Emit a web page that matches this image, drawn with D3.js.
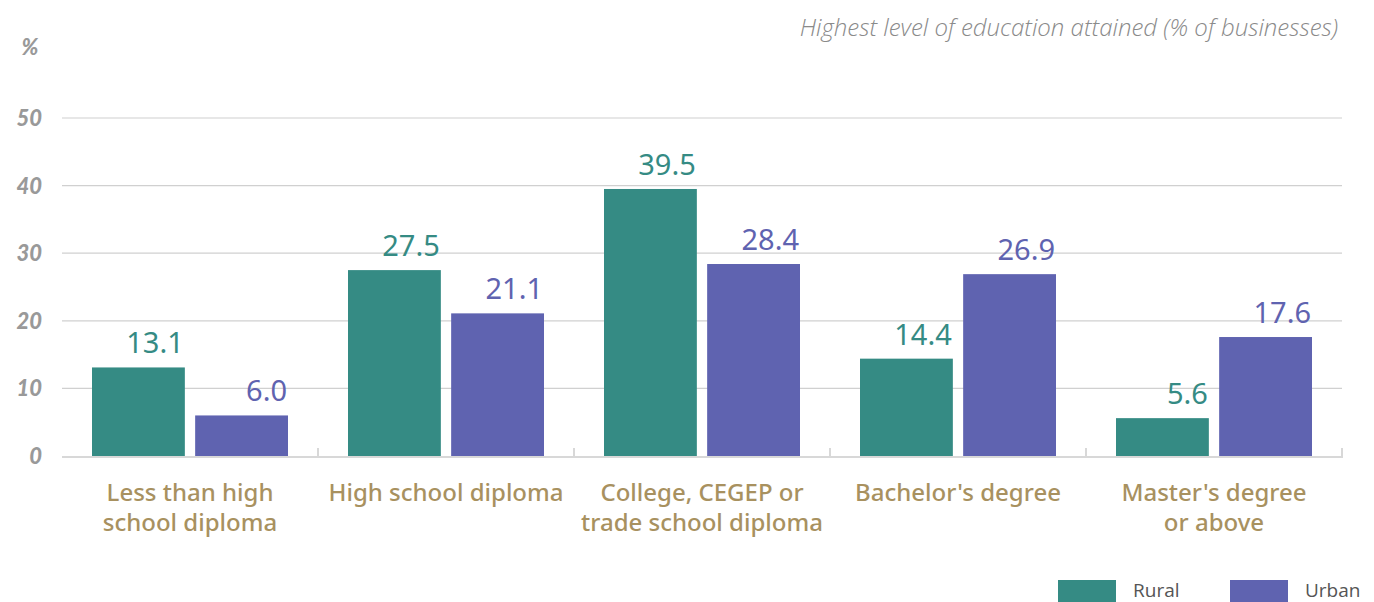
<!DOCTYPE html>
<html>
<head>
<meta charset="utf-8">
<script src="https://cdn.jsdelivr.net/npm/d3@7"></script>
<style>
  body { margin: 0; background: #fff; }
  svg { display: block; }
</style>
</head>
<body>
<script>
const categories = [
  ['Less than high', 'school diploma'],
  ['High school diploma'],
  ['College, CEGEP or', 'trade school diploma'],
  ["Bachelor's degree"],
  ["Master's degree", 'or above']
];
const seriesNames = ['Rural', 'Urban'];
const rural = [13.1, 27.5, 39.5, 14.4, 5.6];
const urban = [6.0, 21.1, 28.4, 26.9, 17.6];
const yTicks = [0, 10, 20, 30, 40, 50];
const colors = ['#358b84', '#5f63b0'];

const width = 1374;
const height = 602;
const margin = { left: 62, right: 32, top: 118, bottom: 146 };

const svg = d3.select('body')
  .append('svg')
  .attr('width', width)
  .attr('height', height);

const x = d3.scaleBand()
  .domain(d3.range(categories.length))
  .range([margin.left, width - margin.right]);

const xInner = d3.scaleBand()
  .domain(seriesNames)
  .range([30, x.bandwidth() - 30])
  .paddingInner(0.1);

const y = d3.scaleLinear()
  .domain([0, 50])
  .range([height - margin.bottom, margin.top]);

// gridlines
svg.append('g')
  .selectAll('line')
  .data(yTicks.filter(d => d > 0))
  .enter()
  .append('line')
  .attr('x1', margin.left)
  .attr('x2', width - margin.right)
  .attr('y1', d => y(d))
  .attr('y2', d => y(d))
  .attr('stroke', '#d0d0d0')
  .attr('stroke-width', 1.2);

// y tick labels
const tickStyle = sel => sel
  .style('font-family', 'Lato, sans-serif')
  .style('font-weight', '900')
  .style('font-style', 'italic')
  .style('font-size', '22px')
  .style('fill', '#999');

svg.append('g')
  .selectAll('text')
  .data(yTicks)
  .enter()
  .append('text')
  .attr('x', 42)
  .attr('y', d => y(d) + 8)
  .attr('text-anchor', 'end')
  .call(tickStyle)
  .text(d => d);

svg.append('text')
  .attr('x', 30)
  .attr('y', 55)
  .attr('text-anchor', 'middle')
  .call(tickStyle)
  .text('%');

// title
svg.append('text')
  .attr('x', 1338)
  .attr('y', 36)
  .attr('text-anchor', 'end')
  .style('font-family', '"Open Sans", sans-serif')
  .style('font-style', 'italic')
  .style('font-weight', '300')
  .style('font-size', '24px')
  .style('fill', '#8a8a8a')
  .text('Highest level of education attained (% of businesses)');

// bars
const rows = categories.map((c, i) => ({ i, values: [rural[i], urban[i]] }));

const groups = svg.append('g')
  .selectAll('g')
  .data(rows)
  .enter()
  .append('g')
  .attr('transform', d => `translate(${x(d.i)},0)`);

groups.selectAll('rect')
  .data(d => d.values.map((v, k) => ({ k, v })))
  .enter()
  .append('rect')
  .attr('x', d => xInner(seriesNames[d.k]))
  .attr('width', xInner.bandwidth())
  .attr('y', d => y(d.v))
  .attr('height', d => y(0) - y(d.v))
  .attr('fill', d => colors[d.k]);

groups.selectAll('text.val')
  .data(d => d.values.map((v, k) => ({ k, v })))
  .enter()
  .append('text')
  .attr('class', 'val')
  .attr('x', d => xInner(seriesNames[d.k]) + xInner.bandwidth() - 1)
  .attr('y', d => y(d.v) - 14)
  .attr('text-anchor', 'end')
  .style('font-family', '"Noto Sans", sans-serif')
  .style('font-size', '29px')
  .style('fill', d => colors[d.k])
  .text(d => d.v.toFixed(1));

// bottom axis
const axisColor = '#d8d8d8';
svg.append('line')
  .attr('x1', margin.left)
  .attr('x2', width - margin.right + 1)
  .attr('y1', y(0) + 1)
  .attr('y2', y(0) + 1)
  .attr('stroke', axisColor)
  .attr('stroke-width', 2);

svg.append('g')
  .selectAll('line')
  .data(d3.range(1, categories.length + 1))
  .enter()
  .append('line')
  .attr('x1', d => x(d - 1) + x.bandwidth())
  .attr('x2', d => x(d - 1) + x.bandwidth())
  .attr('y1', y(0) - 8)
  .attr('y2', y(0) + 2)
  .attr('stroke', axisColor)
  .attr('stroke-width', 2);

// category labels
const catLabels = svg.append('g')
  .selectAll('text')
  .data(categories)
  .enter()
  .append('text')
  .attr('x', (d, i) => x(i) + x.bandwidth() / 2)
  .attr('y', 501)
  .attr('text-anchor', 'middle')
  .style('font-family', '"Noto Sans", sans-serif')
  .style('font-weight', '500')
  .style('font-size', '24px')
  .style('fill', '#a8915f');

catLabels.selectAll('tspan')
  .data(d => d)
  .enter()
  .append('tspan')
  .attr('x', function () { return d3.select(this.parentNode).attr('x'); })
  .attr('dy', (d, i) => i === 0 ? 0 : 30)
  .text(d => d);

// legend
const legendX = [1058, 1230];
const legend = svg.append('g')
  .selectAll('g')
  .data(seriesNames)
  .enter()
  .append('g')
  .attr('transform', (d, i) => `translate(${legendX[i]},580)`);

legend.append('rect')
  .attr('width', 58)
  .attr('height', 22)
  .attr('fill', (d, i) => colors[i]);

legend.append('text')
  .attr('x', 75)
  .attr('y', 17)
  .style('font-family', '"Open Sans", sans-serif')
  .style('font-size', '19px')
  .style('fill', '#555')
  .text(d => d);
</script>
</body>
</html>
